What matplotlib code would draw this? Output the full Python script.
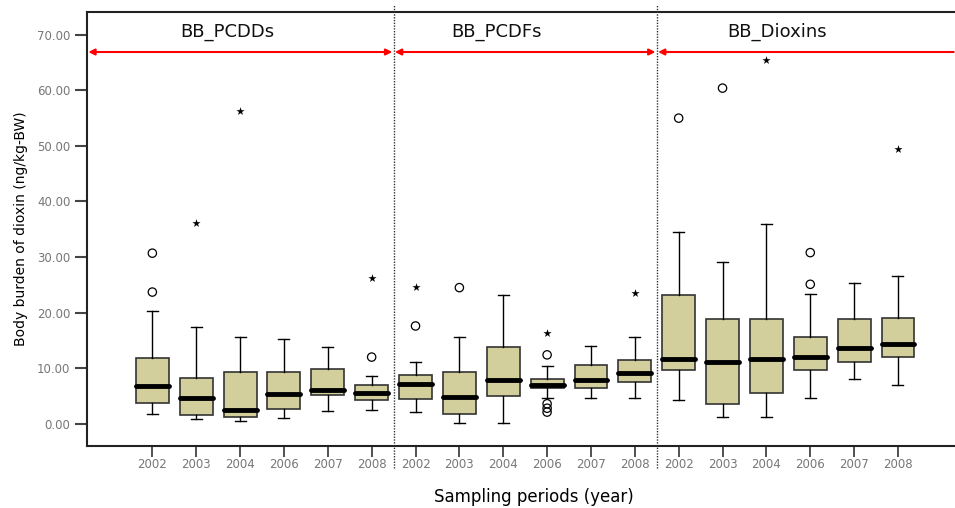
import matplotlib
matplotlib.use("Agg")
import matplotlib.pyplot as plt
import numpy as np

# Body burden of dioxin by sampling year, three compound groups
groups = ["BB_PCDDs", "BB_PCDFs", "BB_Dioxins"]
years = ["2002", "2003", "2004", "2006", "2007", "2008"]

# box statistics, 6 years per group, groups in order PCDDs, PCDFs, Dioxins
whislo = [1.7, 0.9, 0.5, 1.0, 2.3, 2.5,
          2.1, 0.2, 0.2, 4.7, 4.7, 4.7,
          4.35, 1.3, 1.3, 4.6, 8.1, 7.0]
q1 = [3.75, 1.5, 1.2, 2.7, 5.2, 4.35,
      4.5, 1.8, 5.0, 6.4, 6.4, 7.6,
      9.7, 3.6, 5.55, 9.7, 11.2, 12.1]
med = [6.8, 4.7, 2.4, 5.3, 6.1, 5.5,
       7.2, 4.8, 7.8, 6.9, 7.8, 9.2,
       11.65, 11.05, 11.65, 12.1, 13.7, 14.3]
q3 = [11.8, 8.3, 9.3, 9.4, 9.9, 7.0,
      8.8, 9.4, 13.9, 8.0, 10.6, 11.5,
      23.2, 18.8, 18.8, 15.6, 18.8, 19.1]
whishi = [20.3, 17.5, 15.6, 15.2, 13.8, 8.6,
          11.2, 15.7, 23.2, 10.4, 14.0, 15.7,
          34.6, 29.2, 36.0, 23.3, 25.4, 26.6]

# outliers (box index, value)
circ_idx = [0, 0, 5, 6, 7, 9, 9, 9, 9, 12, 13, 15, 15]
circ_val = [30.7, 23.7, 12.0, 17.6, 24.5, 12.4, 3.6, 2.8, 2.1, 55.0, 60.4, 30.8, 25.1]
star_idx = [1, 2, 5, 6, 9, 11, 14, 17]
star_val = [36.1, 56.2, 26.2, 24.6, 16.4, 23.5, 65.5, 49.5]

box_color = "#d3cf9c"
grey = "#777777"

fig = plt.figure(figsize=(9.55, 5.08), dpi=100)
ax = fig.add_axes([87 / 955, 1 - 446 / 508, 1 - 87 / 955, (446 - 12) / 508])

n = len(med)
pos = np.arange(n)
stats = []
for i in range(n):
    stats.append(dict(med=med[i], q1=q1[i], q3=q3[i],
                      whislo=whislo[i], whishi=whishi[i], fliers=[]))

ax.bxp(stats, positions=pos, widths=0.75, showfliers=False, patch_artist=True,
       boxprops=dict(facecolor=box_color, edgecolor="#333333", linewidth=1.2),
       whiskerprops=dict(color="black", linewidth=1.0),
       capprops=dict(color="black", linewidth=1.0),
       capwidths=0.25,
       medianprops=dict(color="black", linewidth=3.5, solid_capstyle="round"))

ax.scatter(np.array(circ_idx), circ_val, marker="o", s=36, facecolor="none",
           edgecolor="black", linewidth=0.9, zorder=4)
ax.scatter(np.array(star_idx), star_val, marker="*", s=38, color="black",
           linewidth=0, zorder=4)

ax.set_xlim(-1.49, 18.3)
ax.set_ylim(-4.0, 74.1)

ax.set_xticks(pos)
ax.set_xticklabels(years * len(groups), color=grey, fontsize=8.5)
ax.set_yticks(np.arange(0, 71, 10))
ax.set_yticklabels(["%.2f" % v for v in np.arange(0, 71, 10)], color=grey, fontsize=8.5)
ax.tick_params(axis="y", direction="out", length=9, width=1.5, color="#444444", pad=3)
ax.tick_params(axis="x", direction="out", length=8, width=1.2, color="#333333", pad=1)

ax.spines["right"].set_visible(False)
for s in ["left", "top", "bottom"]:
    ax.spines[s].set_linewidth(1.5)
    ax.spines[s].set_color("#222222")

# group dividers and red range arrows
bounds = [-1.49, 5.5, 11.5, 18.3]
for b in bounds[1:3]:
    ax.plot([b, b], [-8.0, 75.4], color="#333333", linestyle=(0, (1, 1)),
            linewidth=1.0, clip_on=False, zorder=5)

arrow_y = 66.9
for k in range(3):
    style = "<|-|>" if k < 2 else "<|-"
    ax.annotate("", xy=(bounds[k + 1] - 0.03, arrow_y), xytext=(bounds[k] + 0.03, arrow_y),
                arrowprops=dict(arrowstyle=style, color="red", lw=1.5,
                                mutation_scale=9, shrinkA=0, shrinkB=0))

label_x = [1.72, 7.85, 14.25]
for g, lx in zip(groups, label_x):
    ax.text(lx, 70.5, g, ha="center", va="center", fontsize=13, color="#111111")

ax.set_ylabel("Body burden of dioxin (ng/kg-BW)", fontsize=10)
ax.yaxis.set_label_coords(-0.068, 0.5)
fig.text(534 / 955, 1 - 497 / 508, "Sampling periods (year)", fontsize=12,
         ha="center", va="center")

fig.savefig("out.png", dpi=100)
